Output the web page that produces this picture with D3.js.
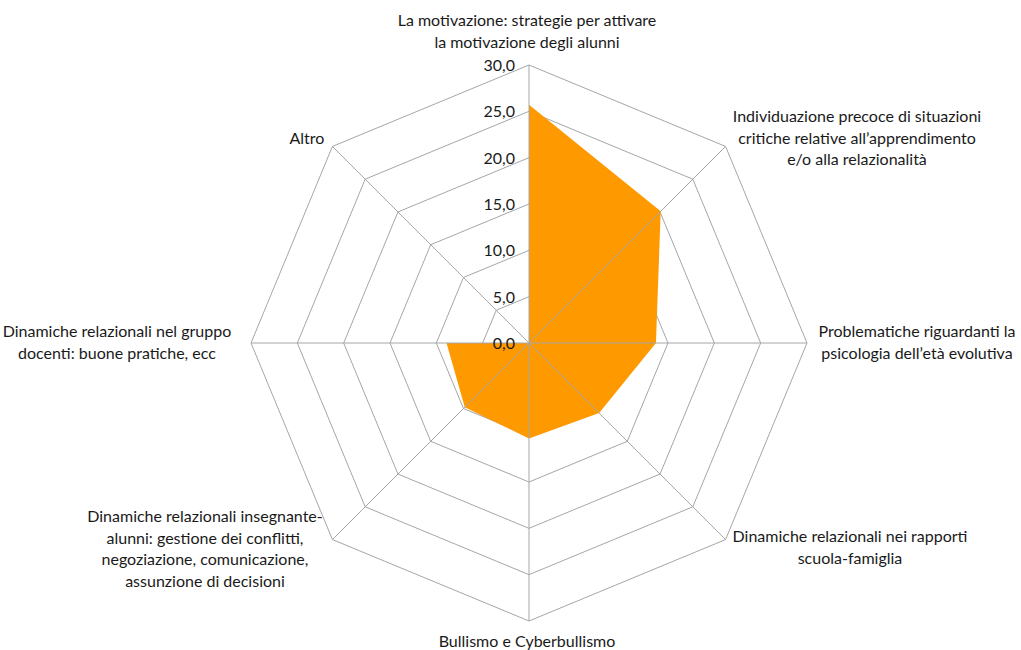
<!DOCTYPE html>
<html><head><meta charset="utf-8">
<script src="https://cdn.jsdelivr.net/npm/d3@7"></script>
<style>body{margin:0;background:#fff}svg text{font-family:Lato,"Open Sans",sans-serif;fill:#1a1a1a}</style>
</head><body>
<svg id="c" width="1021" height="650"></svg>
<script>
const categories = [
  ["La motivazione: strategie per attivare","la motivazione degli alunni"],
  ["Individuazione precoce di situazioni","critiche relative all’apprendimento","e/o alla relazionalità"],
  ["Problematiche riguardanti la","psicologia dell’età evolutiva"],
  ["Dinamiche relazionali nei rapporti","scuola-famiglia"],
  ["Bullismo e Cyberbullismo"],
  ["Dinamiche relazionali insegnante-","alunni: gestione dei conflitti,","negoziazione, comunicazione,","assunzione di decisioni"],
  ["Dinamiche relazionali nel gruppo","docenti: buone pratiche, ecc"],
  ["Altro"]
];
const values = [25.7, 20.1, 13.7, 10.7, 10.3, 9.8, 8.9, 0.0];
const ticks = [0, 5, 10, 15, 20, 25, 30];
const tickLabels = ["0,0","5,0","10,0","15,0","20,0","25,0","30,0"];

const cx = 529, cy = 343, R = 278;
const svg = d3.select("#c");
const r = d3.scaleLinear().domain([0, 30]).range([0, R]);
const n = categories.length;
const ang = i => i * 2 * Math.PI / n;
const pt = (i, v) => [cx + r(v) * Math.sin(ang(i)), cy - r(v) * Math.cos(ang(i))];

const g = svg.append("g");
ticks.slice(1).forEach(t => {
  g.append("polygon")
    .attr("points", d3.range(n).map(i => pt(i, t).join(",")).join(" "))
    .attr("fill", "none").attr("stroke", "#a6a6a6").attr("stroke-width", 1);
});
g.append("polygon")
  .attr("points", values.map((v, i) => pt(i, v).join(",")).join(" "))
  .attr("fill", "#ff9900");
d3.range(n).forEach(i => {
  const p = pt(i, 30);
  g.append("line").attr("x1", cx).attr("y1", cy).attr("x2", p[0]).attr("y2", p[1])
    .attr("stroke", "#a6a6a6").attr("stroke-width", 1);
});
ticks.forEach((t, k) => {
  svg.append("text").attr("x", cx - 14).attr("y", cy - r(t) + 6)
    .attr("text-anchor", "end").attr("font-size", 16).text(tickLabels[k]);
});
const labelPos = [
  [527, 20], [857, 116], [917, 331], [850, 536], [527, 641], [205, 516], [117, 331], [307, 138]
];
categories.forEach((lines, i) => {
  const t = svg.append("text").attr("text-anchor", "middle").attr("font-size", 16);
  lines.forEach((l, j) => {
    t.append("tspan").attr("x", labelPos[i][0]).attr("y", labelPos[i][1] + 6 + j * 21.7).text(l);
  });
});
</script>
</body></html>
